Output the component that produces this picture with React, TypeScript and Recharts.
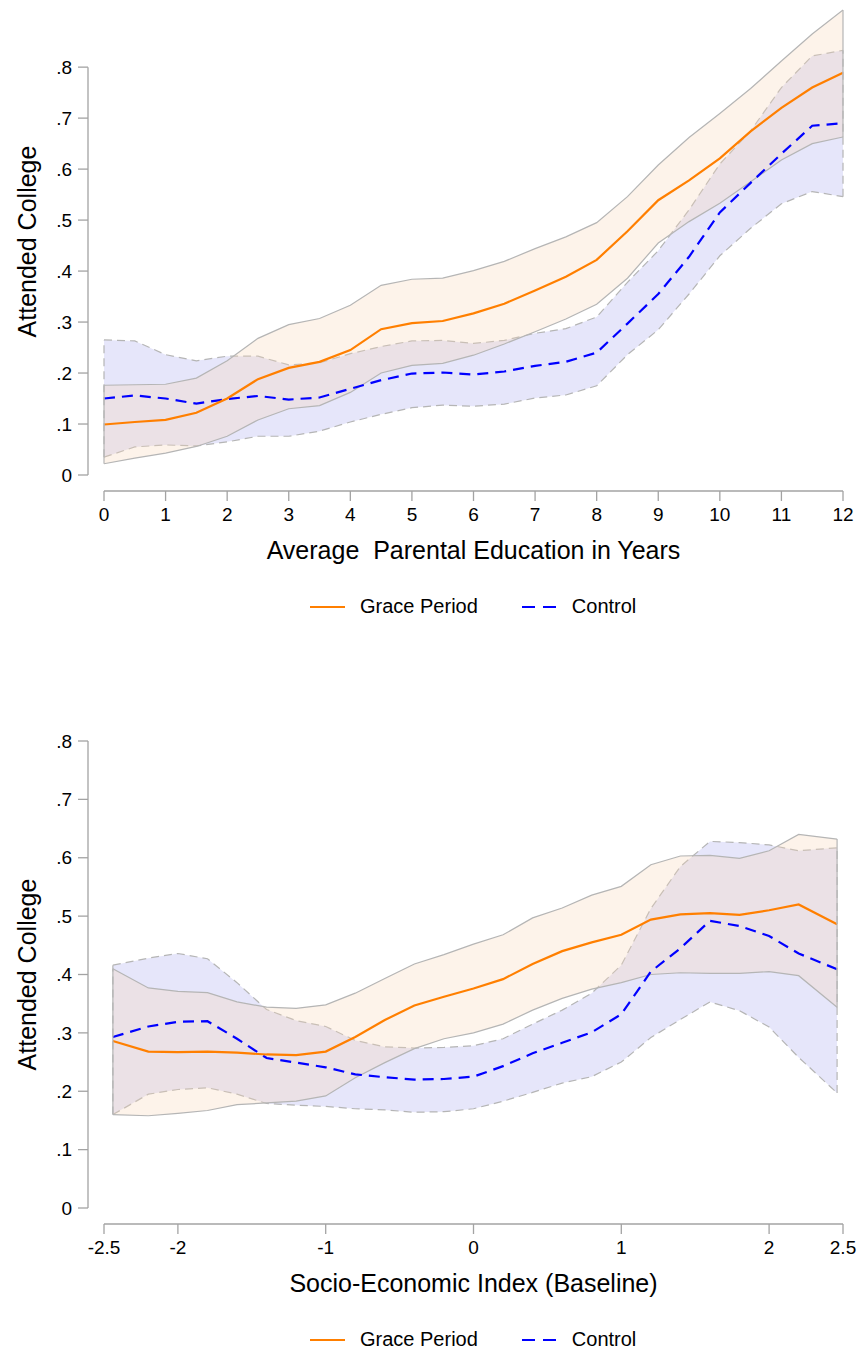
import React from 'react'
import { ComposedChart, Area, Line, XAxis, YAxis, ReferenceLine, Legend } from 'recharts'

// top panel: average parental education in years
const eduYears = [0, 0.5, 1, 1.5, 2, 2.5, 3, 3.5, 4, 4.5, 5, 5.5, 6, 6.5, 7, 7.5, 8, 8.5, 9, 9.5, 10, 10.5, 11, 11.5, 12]
const graceEdu = [0.099, 0.104, 0.108, 0.122, 0.150, 0.188, 0.210, 0.222, 0.245, 0.286, 0.298, 0.302, 0.317, 0.336, 0.362, 0.389, 0.422, 0.478, 0.539, 0.578, 0.621, 0.674, 0.720, 0.760, 0.789]
const graceEduHi = [0.176, 0.177, 0.178, 0.190, 0.224, 0.268, 0.295, 0.307, 0.333, 0.372, 0.384, 0.386, 0.401, 0.419, 0.444, 0.467, 0.495, 0.546, 0.608, 0.662, 0.709, 0.758, 0.812, 0.865, 0.912]
const graceEduLo = [0.022, 0.033, 0.043, 0.056, 0.076, 0.108, 0.130, 0.136, 0.162, 0.200, 0.215, 0.219, 0.235, 0.257, 0.281, 0.306, 0.335, 0.386, 0.455, 0.497, 0.533, 0.575, 0.618, 0.650, 0.663]
const controlEdu = [0.150, 0.156, 0.150, 0.140, 0.149, 0.155, 0.148, 0.152, 0.169, 0.186, 0.199, 0.201, 0.197, 0.203, 0.214, 0.222, 0.240, 0.297, 0.355, 0.428, 0.515, 0.573, 0.630, 0.685, 0.690]
const controlEduHi = [0.265, 0.263, 0.236, 0.224, 0.233, 0.233, 0.216, 0.220, 0.238, 0.252, 0.263, 0.264, 0.258, 0.264, 0.278, 0.287, 0.310, 0.378, 0.440, 0.520, 0.610, 0.675, 0.760, 0.822, 0.833]
const controlEduLo = [0.035, 0.055, 0.059, 0.057, 0.065, 0.076, 0.076, 0.086, 0.104, 0.119, 0.132, 0.137, 0.135, 0.139, 0.151, 0.157, 0.175, 0.236, 0.285, 0.355, 0.430, 0.484, 0.532, 0.556, 0.546]
const eduTicks = [0, 1, 2, 3, 4, 5, 6, 7, 8, 9, 10, 11, 12]

// bottom panel: socio-economic index at baseline
const sesIndex = [-2.44, -2.2, -2.0, -1.8, -1.6, -1.4, -1.2, -1.0, -0.8, -0.6, -0.4, -0.2, 0, 0.2, 0.4, 0.6, 0.8, 1.0, 1.2, 1.4, 1.6, 1.8, 2.0, 2.2, 2.46]
const graceSes = [0.286, 0.268, 0.267, 0.268, 0.266, 0.263, 0.262, 0.268, 0.293, 0.322, 0.347, 0.362, 0.376, 0.392, 0.418, 0.440, 0.455, 0.468, 0.494, 0.503, 0.505, 0.502, 0.510, 0.520, 0.486]
const graceSesHi = [0.410, 0.377, 0.371, 0.369, 0.353, 0.344, 0.342, 0.348, 0.368, 0.393, 0.418, 0.434, 0.452, 0.468, 0.497, 0.514, 0.536, 0.551, 0.588, 0.603, 0.604, 0.599, 0.612, 0.640, 0.632]
const graceSesLo = [0.160, 0.158, 0.162, 0.167, 0.177, 0.180, 0.183, 0.192, 0.223, 0.249, 0.273, 0.290, 0.300, 0.315, 0.339, 0.359, 0.375, 0.386, 0.400, 0.403, 0.402, 0.402, 0.405, 0.398, 0.344]
const controlSes = [0.293, 0.311, 0.319, 0.320, 0.290, 0.257, 0.249, 0.241, 0.229, 0.224, 0.220, 0.221, 0.225, 0.243, 0.265, 0.283, 0.301, 0.332, 0.405, 0.445, 0.492, 0.483, 0.466, 0.436, 0.409]
const controlSesHi = [0.416, 0.428, 0.436, 0.427, 0.386, 0.340, 0.321, 0.311, 0.287, 0.276, 0.274, 0.275, 0.278, 0.290, 0.315, 0.339, 0.368, 0.416, 0.513, 0.585, 0.628, 0.626, 0.622, 0.612, 0.617]
const controlSesLo = [0.160, 0.195, 0.203, 0.206, 0.195, 0.179, 0.176, 0.174, 0.170, 0.168, 0.164, 0.165, 0.170, 0.183, 0.198, 0.214, 0.225, 0.250, 0.292, 0.323, 0.353, 0.338, 0.310, 0.258, 0.197]
const sesTicks = [-2.5, -2, -1, 0, 1, 2, 2.5]

const yTicks = [0, 0.1, 0.2, 0.3, 0.4, 0.5, 0.6, 0.7, 0.8]
const legendOrder = ['Grace Period', 'Control']

const FONT = '"Liberation Sans", Arial, Helvetica, sans-serif'
const AXIS = '#a3a3a3'
const EDGE = '#b5b5b5'
const ORANGE = '#ff7f00'
const BLUE = '#0000ff'

const W = 860
const H = 650
const PLOT_TOP = 38
const PLOT_H = 483
const PLOT_LEFT = 88
const PLOT_RIGHT = 843
const GAP = 16 // Stata-style gap between the axes and the data region

const fmtY = (v: number) => (v === 0 ? '0' : v.toFixed(1).replace(/^0/, ''))

const renderLegend = (props: any) => {
  const items = (props.payload || [])
    .filter((p: any) => p.type !== 'none')
    .sort((a: any, b: any) => legendOrder.indexOf(a.value) - legendOrder.indexOf(b.value))
  return (
    <div style={{ display: 'flex', alignItems: 'center', fontFamily: FONT, fontSize: 20, color: '#000' }}>
      {items.map((p: any, i: number) => (
        <div key={p.value} style={{ display: 'flex', alignItems: 'center', marginLeft: i ? 44 : 0 }}>
          <svg width={35} height={6}>
            <line x1={0} y1={3} x2={35} y2={3} stroke={p.color} strokeWidth={2.2}
              strokeDasharray={p.payload?.strokeDasharray ? '13 8' : undefined} />
          </svg>
          <span style={{ marginLeft: 15 }}>{p.value}</span>
        </div>
      ))}
    </div>
  )
}

type PanelProps = {
  xs: number[]
  grace: number[]; graceLo: number[]; graceHi: number[]
  control: number[]; controlLo: number[]; controlHi: number[]
  xTicks: number[]
  xTitle: string
  yTop: number
}

function Panel({ xs, grace, graceLo, graceHi, control, controlLo, controlHi, xTicks, xTitle, yTop }: PanelProps) {
  const rows = xs.map((x, i) => ({
    x,
    grace: grace[i],
    graceBand: [graceLo[i], graceHi[i]],
    control: control[i],
    controlBand: [controlLo[i], controlHi[i]],
  }))
  const xMin = xTicks[0]
  const xMax = xTicks[xTicks.length - 1]
  const plotW = PLOT_RIGHT - PLOT_LEFT
  const xLo = xMin - (GAP * (xMax - xMin)) / (plotW - GAP)
  const yLo = -(GAP * yTop) / (PLOT_H - GAP)
  const n = xs.length - 1
  const tickStyle = { fill: '#000', fontSize: 19, fontFamily: FONT }

  return (
    <ComposedChart width={W} height={H} data={rows}
      margin={{ top: PLOT_TOP, right: W - PLOT_RIGHT, left: 0, bottom: H - PLOT_TOP - PLOT_H - 80 }}>
      <XAxis type="number" dataKey="x" domain={[xLo, xMax]} ticks={xTicks} allowDataOverflow
        interval={0} axisLine={false} tickSize={10} tickMargin={7}
        tickLine={{ stroke: AXIS, strokeWidth: 1.3 }} tick={tickStyle} height={80}
        label={{
          value: xTitle,
          content: (p: any) => {
            const vb = p.viewBox
            return (
              <text x={vb.x + GAP + (vb.width - GAP) / 2} y={vb.y + 59} textAnchor="middle"
                dominantBaseline="central" fontFamily={FONT} fontSize={25} fill="#000"
                style={{ whiteSpace: 'pre' }}>{xTitle}</text>
            )
          },
        }} />
      <YAxis type="number" domain={[yLo, yTop]} ticks={yTicks} allowDataOverflow interval={0}
        axisLine={false} tickSize={10} tickMargin={6} width={PLOT_LEFT}
        tickLine={{ stroke: AXIS, strokeWidth: 1.3 }} tick={tickStyle} tickFormatter={fmtY}
        label={{
          value: 'Attended College',
          content: (p: any) => {
            const vb = p.viewBox
            const cx = vb.x + 27
            const cy = vb.y + vb.height / 2 - 8
            return (
              <text x={cx} y={cy} transform={`rotate(-90 ${cx} ${cy})`} textAnchor="middle"
                dominantBaseline="central" fontFamily={FONT} fontSize={25} fill="#000">Attended College</text>
            )
          },
        }} />

      <Area type="linear" dataKey="controlBand" fill="#e6e6fa" fillOpacity={1} stroke={EDGE}
        strokeWidth={1.2} strokeDasharray="8 5" legendType="none" dot={false} activeDot={false}
        isAnimationActive={false} />
      <Line type="linear" dataKey="control" name="Control" stroke={BLUE} strokeWidth={2.2}
        strokeDasharray="11 7" dot={false} activeDot={false} isAnimationActive={false} />
      <Area type="linear" dataKey="graceBand" fill="#fad7b9" fillOpacity={0.3} stroke={EDGE}
        strokeWidth={1.2} legendType="none" dot={false} activeDot={false} isAnimationActive={false} />
      <Line type="linear" dataKey="grace" name="Grace Period" stroke={ORANGE} strokeWidth={2.2}
        dot={false} activeDot={false} isAnimationActive={false} />

      {/* closing edges of the confidence bands */}
      <ReferenceLine ifOverflow="visible" stroke={EDGE} strokeWidth={1.2} strokeDasharray="8 5"
        segment={[{ x: xs[0], y: controlLo[0] }, { x: xs[0], y: controlHi[0] }]} />
      <ReferenceLine ifOverflow="visible" stroke={EDGE} strokeWidth={1.2} strokeDasharray="8 5"
        segment={[{ x: xs[n], y: controlLo[n] }, { x: xs[n], y: controlHi[n] }]} />
      <ReferenceLine ifOverflow="visible" stroke={EDGE} strokeWidth={1.2}
        segment={[{ x: xs[0], y: graceLo[0] }, { x: xs[0], y: graceHi[0] }]} />
      <ReferenceLine ifOverflow="visible" stroke={EDGE} strokeWidth={1.2}
        segment={[{ x: xs[n], y: graceLo[n] }, { x: xs[n], y: graceHi[n] }]} />

      {/* detached axis lines */}
      <ReferenceLine ifOverflow="visible" stroke={AXIS} strokeWidth={1.3}
        segment={[{ x: xMin, y: yLo }, { x: xMax, y: yLo }]} />
      <ReferenceLine ifOverflow="visible" stroke={AXIS} strokeWidth={1.3}
        segment={[{ x: xLo, y: yTicks[0] }, { x: xLo, y: yTicks[yTicks.length - 1] }]} />

      <Legend layout="horizontal" verticalAlign="middle" align="center" content={renderLegend}
        wrapperStyle={{ top: PLOT_TOP + 587, left: 310, width: 420, height: 26 }} />
    </ComposedChart>
  )
}

export default function App() {
  return (
    <div style={{ position: 'absolute', left: 0, top: 0, width: W, height: 1353, overflow: 'hidden', background: '#fff' }}>
      <div style={{ position: 'absolute', left: 0, top: 8 - PLOT_TOP }}>
        <Panel xs={eduYears} grace={graceEdu} graceLo={graceEduLo} graceHi={graceEduHi}
          control={controlEdu} controlLo={controlEduLo} controlHi={controlEduHi}
          xTicks={eduTicks} xTitle="Average  Parental Education in Years" yTop={0.916} />
      </div>
      <div style={{ position: 'absolute', left: 0, top: 741 - PLOT_TOP }}>
        <Panel xs={sesIndex} grace={graceSes} graceLo={graceSesLo} graceHi={graceSesHi}
          control={controlSes} controlLo={controlSesLo} controlHi={controlSesHi}
          xTicks={sesTicks} xTitle="Socio-Economic Index (Baseline)" yTop={0.8} />
      </div>
    </div>
  )
}
